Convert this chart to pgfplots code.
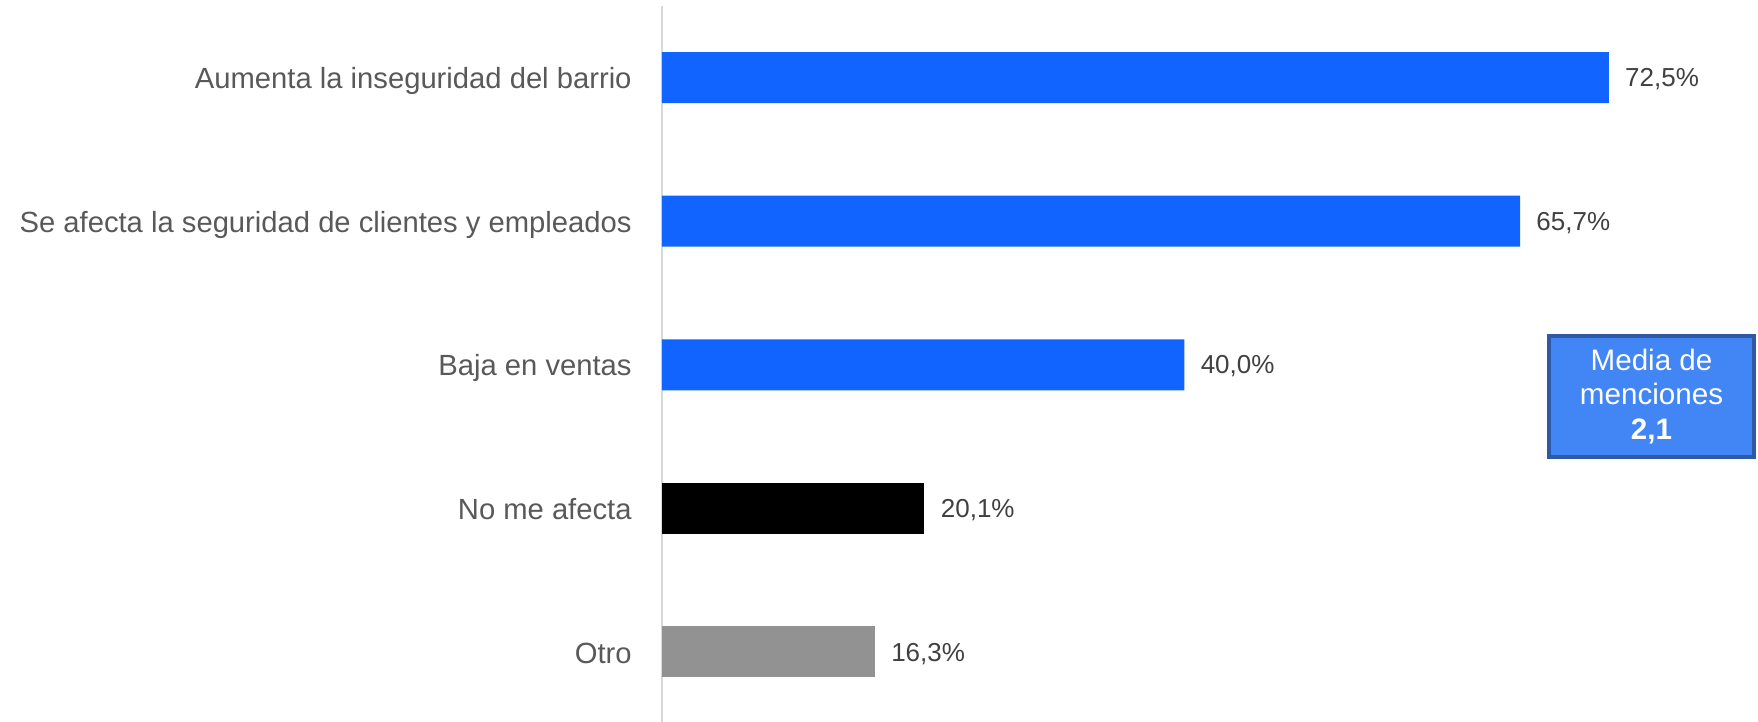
\documentclass[border=0pt]{standalone}
\usepackage{pgfplots}
\pgfplotsset{compat=1.18}
\usepackage{fontspec}
\setmainfont{Liberation Sans}
\definecolor{barblue}{RGB}{17,100,255}
\definecolor{bargray}{RGB}{146,146,146}
\definecolor{labgray}{RGB}{89,89,89}
\definecolor{valgray}{RGB}{64,64,64}
\definecolor{linegray}{RGB}{217,217,217}
\definecolor{boxfill}{RGB}{66,133,244}
\definecolor{boxline}{RGB}{47,88,165}
\begin{document}
\begin{tikzpicture}
\begin{axis}[%
width=548pt,
height=358.1pt,
at={(0,0)},
anchor=south west,
scale only axis,
xbar,
bar width=25.5pt,
bar shift=0pt,
xmin=0,
xmax=83.92,
ymin=-0.4875,
ymax=4.5,
axis x line=none,
axis y line*=left,
y axis line style={draw=linegray, line width=1pt},
xtick=\empty,
ytick={0,1,2,3,4},
yticklabels={Otro,No me afecta,Baja en ventas,Se afecta la seguridad de clientes y empleados,Aumenta la inseguridad del barrio},
major tick length=0pt,
yticklabel style={font=\fontsize{14.6}{16}\selectfont, text=labgray, inner sep=0pt, text height=0.716em, text depth=0pt, xshift=-15pt, yshift=-2pt},
nodes near coords,
point meta=explicit symbolic,
every node near coord/.append style={font=\fontsize{13}{15}\selectfont, text=valgray, anchor=west, inner sep=0pt, text height=0.716em, text depth=0pt, xshift=8pt, yshift=-1pt},
clip=false
]
\addplot[fill=barblue, draw=none] coordinates {
(72.5,4) [72,5\%]
(65.7,3) [65,7\%]
(40.0,2) [40,0\%]
};
\addplot[fill=black, draw=none] coordinates {
(20.1,1) [20,1\%]
};
\addplot[fill=bargray, draw=none] coordinates {
(16.3,0) [16,3\%]
};
\node[draw=boxline, line width=2pt, fill=boxfill, text=white,
  minimum width=102.5pt, minimum height=60.5pt, inner sep=0pt,
  align=center, font=\fontsize{14.8}{17.2}\selectfont]
  at (axis cs:75.77,1.78) {Media de\\menciones\\\textbf{2,1}};
\end{axis}
\pgfresetboundingbox
\path (-331pt,0pt) rectangle (548pt,361pt);
\end{tikzpicture}
\end{document}
